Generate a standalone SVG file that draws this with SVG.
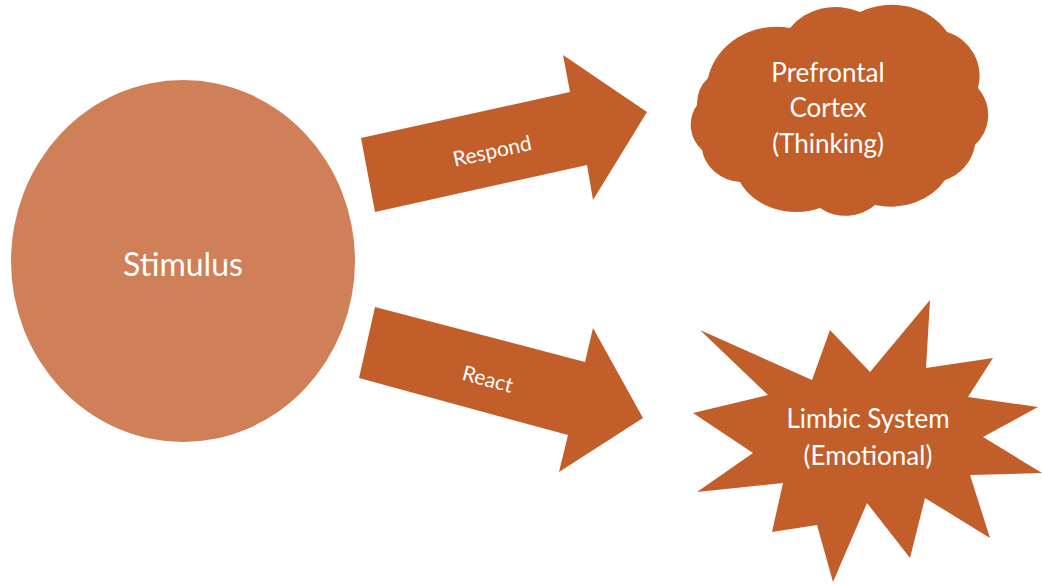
<svg xmlns="http://www.w3.org/2000/svg" width="1042" height="585" viewBox="0 0 1042 585">
<style>
.shape{fill:#C25E2A}
.circ{fill:#D08058}
.lbl{fill:#FFFFFF;font-family:Lato,"Open Sans","Liberation Sans",sans-serif;text-anchor:middle;dominant-baseline:central}
</style>
<rect width="1042" height="585" fill="#FFFFFF"/>
<g id="stimulus">
<ellipse class="circ" cx="183" cy="261" rx="172" ry="181"/>
<text class="lbl" x="183" y="263" font-size="32">Stimulus</text>
</g>
<g id="connectors">
<g id="respond">
<polygon class="shape" points="361,138 570,92 563,55 647,112 593,200 587,165 375,212"/>
<text class="lbl" x="492" y="150" font-size="21" transform="rotate(-12.4 492 150)">Respond</text>
</g>
<g id="react">
<polygon class="shape" points="375,307 585,362 593,328 643,418 559,472 568,435 359,378"/>
<text class="lbl" x="488" y="378" font-size="21" transform="rotate(15 488 378)">React</text>
</g>
</g>
<g id="prefrontal">
<path class="shape" d="M697,105 A36,36 0 0 1 708,78 A70,64 0 0 1 790,28 A55,48 0 0 1 860,12 A64,55 0 0 1 947,32 A46,46 0 0 1 978,88 A44,42 0 0 1 975,145 A46,44 0 0 1 945,180 A62,52 0 0 1 875,205 A42,38 0 0 1 820,208 A62,52 0 0 1 740,182 A42,38 0 0 1 702,150 A34,34 0 0 1 697,105 Z"/>
<text class="lbl" x="828" y="72" font-size="26">Prefrontal</text>
<text class="lbl" x="828" y="107" font-size="26">Cortex</text>
<text class="lbl" x="828" y="143" font-size="26">(Thinking)</text>
</g>
<g id="limbic">
<polygon class="shape" points="930,300 926,368 993,358 968,397 1038,407 983,437 1042,473 970,475 990,538 925,498 910,558 867,503 833,582 817,525 772,532 783,483 697,492 753,453 693,413 768,395 700,330 812,380 830,330 870,372"/>
<text class="lbl" x="868" y="418" font-size="26">Limbic System</text>
<text class="lbl" x="868" y="455" font-size="26">(Emotional)</text>
</g>
</svg>
